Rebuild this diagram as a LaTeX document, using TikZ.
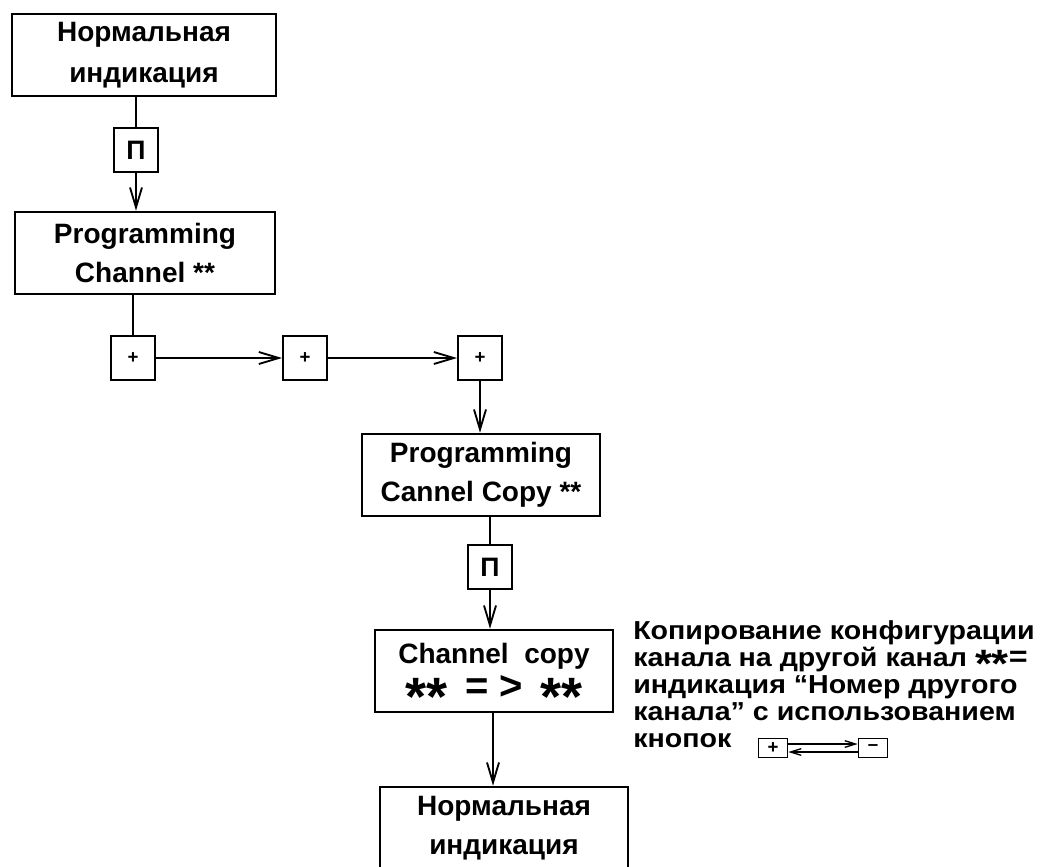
\documentclass[tikz,border=0pt]{standalone}
\usepackage{fontspec}
\setmainfont{Liberation Sans}
\newfontfamily\widefont[FakeStretch=1.1]{Liberation Sans}
\usetikzlibrary{arrows.meta}

\tikzset{
  blk/.style={draw,line width=1.4pt,minimum width=#1,minimum height=62pt,
    inner sep=0pt,align=center,font=\bfseries\fontsize{21}{29}\selectfont},
  key/.style={draw,line width=1.4pt,minimum width=33pt,minimum height=33pt,
    inner sep=0pt,font=\bfseries\fontsize{20}{20}\selectfont},
  pkey/.style={key,font=\bfseries\fontsize{14}{14}\selectfont},
  tkey/.style={draw,line width=1pt,minimum width=22pt,minimum height=14pt,
    inner sep=0pt,font=\bfseries\fontsize{14}{12}\selectfont},
  arr/.style={line width=1.4pt,-{Straight Barb[length=15pt,width=9pt,line width=1.4pt]}},
  tarr/.style={line width=1pt,-{Straight Barb[length=8pt,width=5pt,line width=1pt]}}
}
\newcommand{\bigast}[1]{\smash{\raisebox{#1}{\scalebox{1.35}{**}}}}

\begin{document}
\begin{tikzpicture}[x=0.75pt,y=-0.75pt]
\useasboundingbox (0,0) rectangle (1049,867);

\node[blk=198pt] (norm1) at (144,55) {Нормальная\\[2pt]индикация};
\node[key] (p1) at (136,150) {П};
\node[blk=195pt] (prog) at (145,253) {Programming\\Channel **};
\node[pkey] (plus1) at (133,358) {+};
\node[pkey] (plus2) at (305,358) {+};
\node[pkey] (plus3) at (480,358) {+};
\node[blk=178.5pt] (progcopy) at (481,475) {Programming\\Cannel Copy **};
\node[key] (p2) at (490,567) {П};
\node[blk=178.5pt] (copy) at (494,671)
  {Channel\ \ copy\\[-2pt]{\fontsize{30}{26}\selectfont\bigast{-0.42em}\ \,=\ >\ \,\bigast{-0.42em}}};
\node[blk=186pt] (norm2) at (504,828) {Нормальная\\индикация};

\draw[line width=1.4pt] (p1 |- norm1.south) -- (p1);
\draw[arr] (p1) -- (p1 |- prog.north);
\draw[line width=1.4pt] (plus1 |- prog.south) -- (plus1);
\draw[arr] (plus1) -- (plus2);
\draw[arr] (plus2) -- (plus3);
\draw[arr] (plus3) -- (plus3 |- progcopy.north);
\draw[line width=1.4pt] (p2 |- progcopy.south) -- (p2);
\draw[arr] (p2) -- (p2 |- copy.north);
\draw[arr] (copy.south -| 493,0) -- (norm2.north -| 493,0);

% legend
\node[anchor=north west,inner sep=0pt,align=left,
  font=\widefont\bfseries\fontsize{19.5}{20.3}\selectfont] (note) at (633,620)
  {Копирование конфигурации\\
   канала на другой канал {\fontsize{22}{20}\selectfont\bigast{-0.4em}\smash{=}}\\
   индикация “Номер другого\\
   канала” с использованием\\
   кнопок};
\node[tkey] (lplus) at (773,748) {+};
\node[tkey] (lminus) at (873,748) {--};
\draw[tarr] ([yshift=3pt]lplus.east) -- ([yshift=3pt]lminus.west);
\draw[tarr] ([yshift=-3pt]lminus.west) -- ([yshift=-3pt]lplus.east);
\end{tikzpicture}
\end{document}
